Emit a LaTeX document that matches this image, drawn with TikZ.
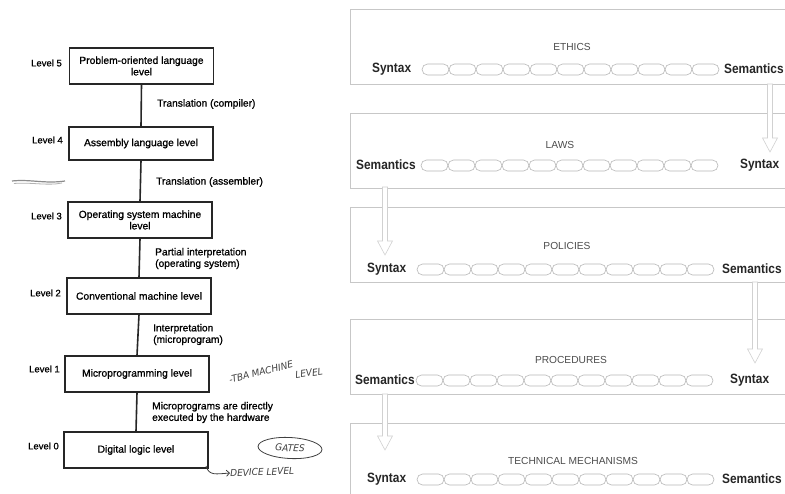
\documentclass[tikz,border=0pt]{standalone}
\usepackage{fontspec}
\usetikzlibrary{shapes.geometric,arrows.meta,calc}
\setmainfont{Liberation Sans}
\newfontfamily\scanfont{Liberation Sans}[FakeBold=0.9]
\newfontfamily\tagfont{Liberation Sans Bold}[FakeStretch=0.88]
\newfontfamily\handfont{DejaVu Sans}[FakeStretch=0.95]

% hollow block arrow between two named coordinates (top, tip)
\newcommand\hollowarrow[2]{%
  \path[blockarrow] let \p1=(#1), \p2=(#2) in
    (\x1-2.5pt,\y1) -- (\x1-2.5pt,\y2+14pt) -- (\x1-7.5pt,\y2+14pt) --
    (\x2,\y2) -- (\x1+7.5pt,\y2+14pt) -- (\x1+2.5pt,\y2+14pt) --
    (\x1+2.5pt,\y1) -- cycle;}

% row of eleven capsules starting at a named coordinate
\newcommand\capsulerow[1]{%
  \foreach \k in {0,...,10}{%
    \draw[capsule] ([xshift=\k*27pt]#1) ++(0,-5.5) rectangle ++(27,11);}}

\begin{document}
\begin{tikzpicture}[x=1pt,y=-1pt,
  lvbox/.style={draw=black!85, line width=1.1pt, minimum width=144pt,
    inner sep=0pt, align=center, font=\scanfont\fontsize{10.3}{11.5}\selectfont},
  lvtag/.style={anchor=east, inner sep=0pt, font=\scanfont\fontsize{9.5}{11}\selectfont},
  lvnote/.style={anchor=west, align=left, inner sep=0pt,
    font=\scanfont\fontsize{10.2}{11.5}\selectfont},
  link/.style={draw=black!85, line width=1.6pt},
  layer/.style={draw=black!22, line width=0.9pt, fill=white, anchor=north west,
    minimum width=460pt, minimum height=75pt, inner sep=0pt},
  layertitle/.style={inner sep=0pt, text=black!70, font=\fontsize{10.2}{12}\selectfont},
  side/.style={anchor=west, inner sep=0pt, text=black!85, font=\tagfont\fontsize{13.5}{14}\selectfont},
  capsule/.style={draw=black!28, line width=0.6pt, rounded corners=5.5pt},
  blockarrow/.style={draw=black!18, line width=0.6pt, fill=white},
  hand/.style={inner sep=0pt, text=black!75, font=\handfont\itshape\fontsize{9.5}{11}\selectfont},
]
\useasboundingbox (0,0) rectangle (785,493);
\fill[white] (0,0) rectangle (785,493);

% ---------- abstraction levels ----------
\node[lvbox, minimum height=36pt] (b5) at (141.5,66) {Problem-oriented language\\level};
\node[lvbox, minimum height=33pt] (b4) at (141,143.5) {Assembly language level};
\node[lvbox, minimum height=36pt] (b3) at (140,220) {Operating system machine\\level};
\node[lvbox, minimum height=36pt] (b2) at (139,296) {Conventional machine level};
\node[lvbox, minimum height=36pt] (b1) at (137,374) {Microprogramming level};
\node[lvbox, minimum height=36pt] (b0) at (136,450) {Digital logic level};

\draw[link] (b5.south) -- (b4.north);
\draw[link] (b4.south) -- (b3.north);
\draw[link] (b3.south) -- (b2.north);
\draw[link] (b2.south) -- (b1.north);
\draw[link] (b1.south) -- (b0.north);

\node[lvtag] (t5) at (62,63) {Level 5};
\node[lvtag] (t4) at (63,140) {Level 4};
\node[lvtag] (t3) at (62,216) {Level 3};
\node[lvtag] (t2) at (61,293) {Level 2};
\node[lvtag] (t1) at (60,369) {Level 1};
\node[lvtag] (t0) at (59,446) {Level 0};

\node[lvnote] (n54) at (157,104) {Translation (compiler)};
\node[lvnote] (n43) at (156,182) {Translation (assembler)};
\node[lvnote] (n32) at (155,258.5) {Partial interpretation\\(operating system)};
\node[lvnote] (n21) at (153,334.5) {Interpretation\\(microprogram)};
\node[lvnote] (n10) at (152,412.5) {Microprograms are directly\\executed by the hardware};

% pencil notes
\node[hand, rotate=14, anchor=west] (h1) at (229,380) {-TBA MACHINE};
\node[hand, rotate=8] (h2) at (309,373) {LEVEL};
\node[hand, draw=black!75, line width=0.8pt, ellipse, minimum width=64pt,
  minimum height=21pt, rotate=-3] (gates) at (290,448) {GATES};
\coordinate (hookstart) at (206,466);
\node[hand, anchor=west, rotate=2] (h3) at (230,473) {DEVICE LEVEL};
\draw[black!75, line width=0.8pt, -{Straight Barb[length=3pt]}]
  (hookstart) .. controls (209,476) and (216,474) .. (h3.west);
\draw[black!45, line width=1.2pt] (12,181) .. controls (30,179) and (45,184) .. (65,181);
\draw[black!30, line width=0.8pt] (14,183.5) .. controls (30,182) and (48,186) .. (62,183);

% ---------- policy layers ----------
\node[layer] (ethics) at (350,9) {};
\node[layer] (laws) at (350,113) {};
\node[layer] (policies) at (350,207) {};
\node[layer] (procs) at (350,319) {};
\node[layer] (techm) at (350,423) {};

\node[layertitle] (ethicsT) at (572,47) {ETHICS};
\node[layertitle] (lawsT) at (560,145) {LAWS};
\node[layertitle] (policiesT) at (567,246) {POLICIES};
\node[layertitle] (procsT) at (571,360) {PROCEDURES};
\node[layertitle] (techmT) at (573,461) {TECHNICAL MECHANISMS};

\node[side] (eL) at (372,69) {Syntax};
\node[side] (eR) at (724,69) {Semantics};
\node[side] (lL) at (356,165) {Semantics};
\node[side] (lR) at (740,165) {Syntax};
\node[side] (pL) at (367,269) {Syntax};
\node[side] (pR) at (722,269) {Semantics};
\node[side] (rL) at (355,380) {Semantics};
\node[side] (rR) at (730,380) {Syntax};
\node[side] (tL) at (367,479) {Syntax};
\node[side] (tR) at (722,479) {Semantics};

\coordinate (eC) at (422,69.5);
\coordinate (lC) at (421,165.5);
\coordinate (pC) at (417,269.5);
\coordinate (rC) at (416,380.5);
\coordinate (tC) at (417,479.5);
\capsulerow{eC}
\capsulerow{lC}
\capsulerow{pC}
\capsulerow{rC}
\capsulerow{tC}

\coordinate (a1s) at (770,84);  \coordinate (a1e) at (770,152);
\coordinate (a2s) at (385,187); \coordinate (a2e) at (385,255);
\coordinate (a3s) at (755,282); \coordinate (a3e) at (755,363);
\coordinate (a4s) at (385,394); \coordinate (a4e) at (385,450);
\hollowarrow{a1s}{a1e}
\hollowarrow{a2s}{a2e}
\hollowarrow{a3s}{a3e}
\hollowarrow{a4s}{a4e}
\end{tikzpicture}
\end{document}
